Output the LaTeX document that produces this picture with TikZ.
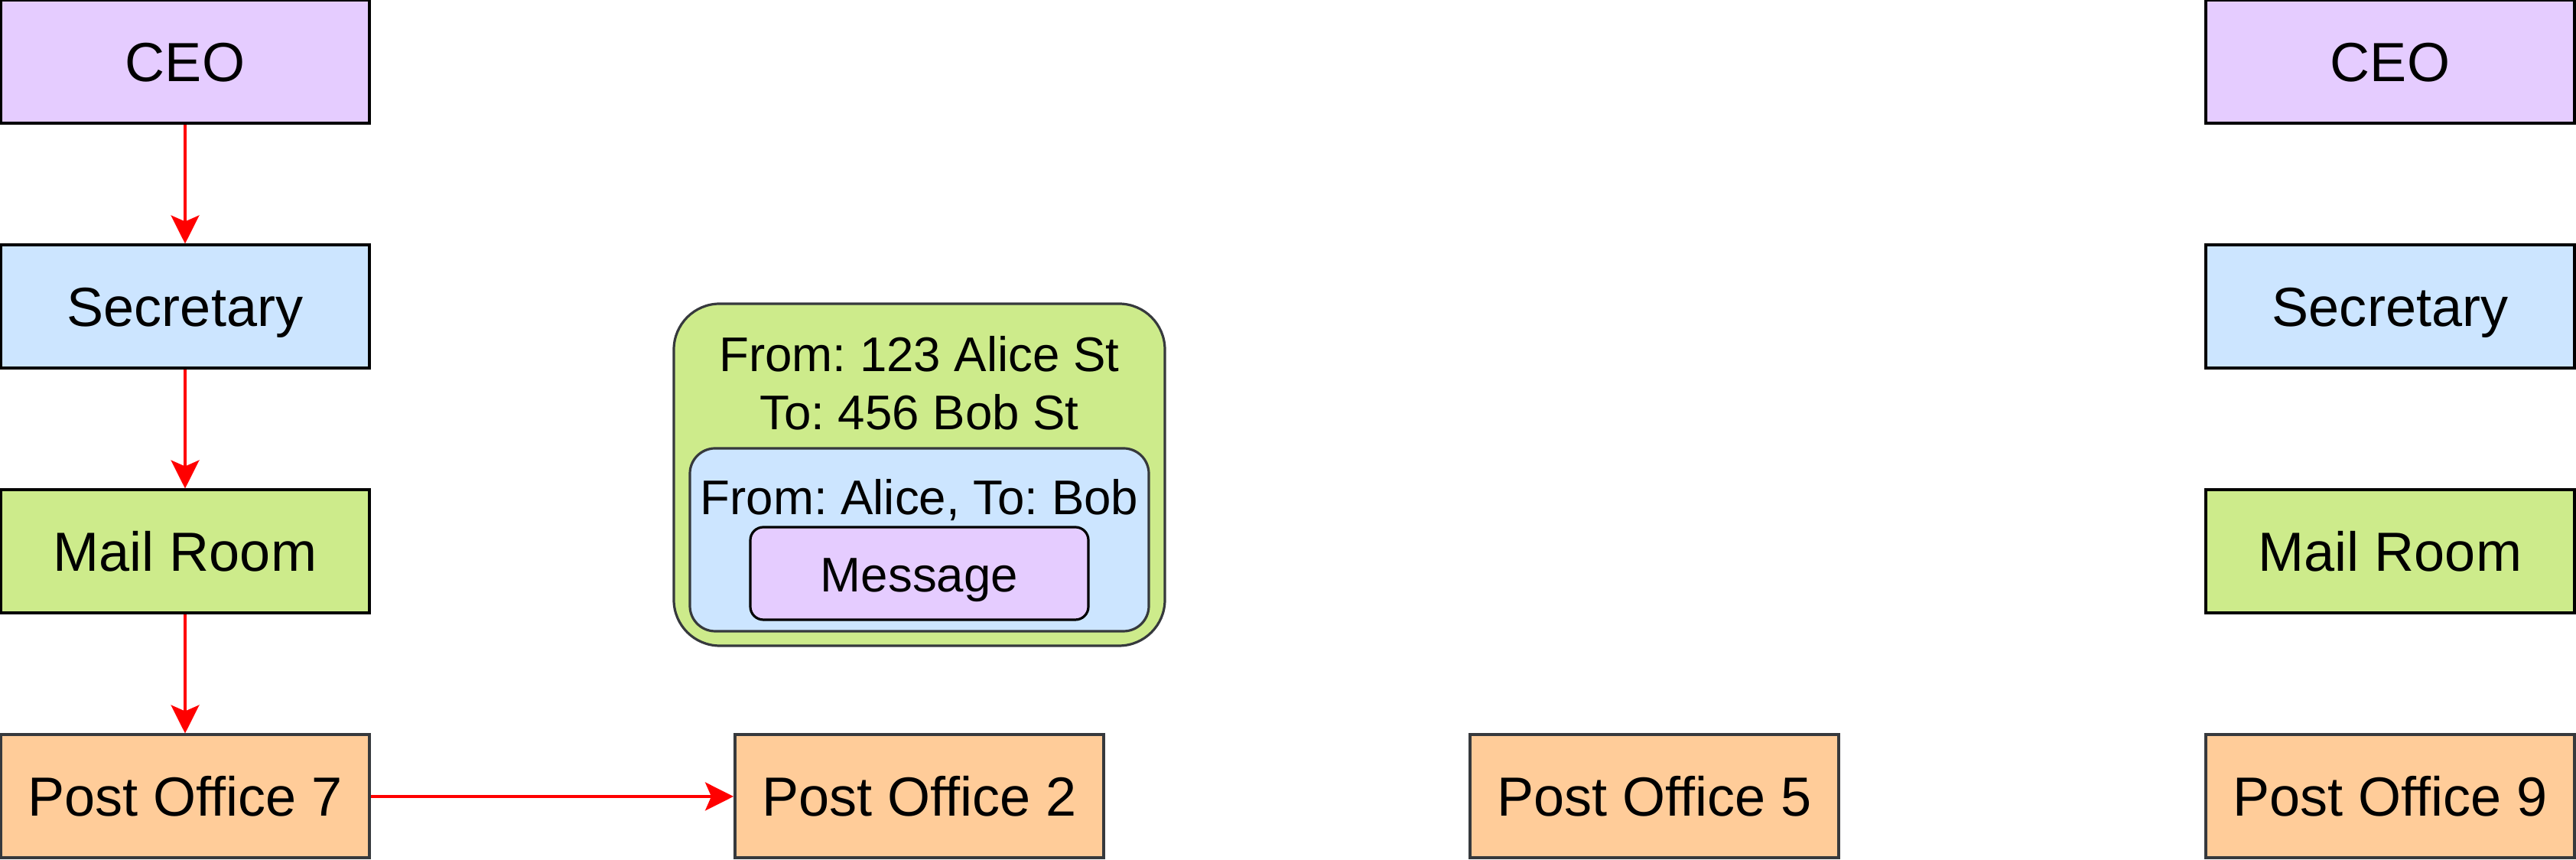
\documentclass[tikz,border=0pt]{standalone}
\usepackage{fontspec}
\setmainfont{Liberation Sans}
\usetikzlibrary{arrows.meta}
\definecolor{cpurple}{HTML}{E5CCFF}
\definecolor{cblue}{HTML}{CCE5FF}
\definecolor{cgreen}{HTML}{CDEB8B}
\definecolor{corange}{HTML}{FFCC99}
\definecolor{cgray}{HTML}{36393D}
\definecolor{cred}{HTML}{FF0000}
\frenchspacing
\tikzset{
  box/.style={draw=black, line width=0.04cm, minimum width=4.82cm, minimum height=1.61cm,
    inner sep=0pt, text height=0.516cm, text depth=0pt,
    font=\fontsize{20.5}{24.6}\selectfont},
  pbox/.style={box, draw=cgray, fill=corange},
  env/.style={draw=cgray, line width=0.032cm, inner sep=0pt},
  envtext/.style={inner sep=0pt, anchor=base, font=\fontsize{18.1}{21.7}\selectfont},
  arr/.style={draw=cred, line width=0.035cm, -{Stealth[length=0.37cm, width=0.37cm, inset=0.08cm]}}
}
\begin{document}
\begin{tikzpicture}
\useasboundingbox (0,0) rectangle (33.68,11.24);
% left column
\node[box, fill=cpurple] (ceo) at (2.42,10.43) {CEO};
\node[box, fill=cblue] (sec) at (2.42,7.23) {Secretary};
\node[box, fill=cgreen] (mail) at (2.42,4.03) {Mail Room};
\node[pbox] (po7) at (2.42,0.83) {Post Office 7};
% right column
\node[box, fill=cpurple] (ceoR) at (31.25,10.43) {CEO};
\node[box, fill=cblue] (secR) at (31.25,7.23) {Secretary};
\node[box, fill=cgreen] (mailR) at (31.25,4.03) {Mail Room};
\node[pbox] (po9) at (31.25,0.83) {Post Office 9};
% middle post offices
\node[pbox] (po2) at (12.02,0.83) {Post Office 2};
\node[pbox] (po5) at (21.63,0.83) {Post Office 5};
% envelope
\node[env, fill=cgreen, rounded corners=0.6cm, minimum width=6.42cm, minimum height=4.47cm] (outer) at (12.02,5.035) {};
\node[env, fill=cblue, rounded corners=0.33cm, minimum width=6.0cm, minimum height=2.39cm] (inner) at (12.02,4.185) {};
\node[env, draw=black, fill=cpurple, rounded corners=0.17cm, minimum width=4.42cm, minimum height=1.21cm] (msg) at (12.02,3.745) {};
\node[envtext] (addr1) at (12.02,6.38) {From: 123 Alice St};
\node[envtext] (addr2) at (12.02,5.62) {To: 456 Bob St};
\node[envtext] (names) at (12.02,4.51) {From: Alice, To: Bob};
\node[envtext] (msgt) at (12.02,3.50) {Message};
% arrows
\draw[arr] (ceo.south) -- (sec.north);
\draw[arr] (sec.south) -- (mail.north);
\draw[arr] (mail.south) -- (po7.north);
\draw[arr] (po7.east) -- (po2.west);
\end{tikzpicture}
\end{document}
